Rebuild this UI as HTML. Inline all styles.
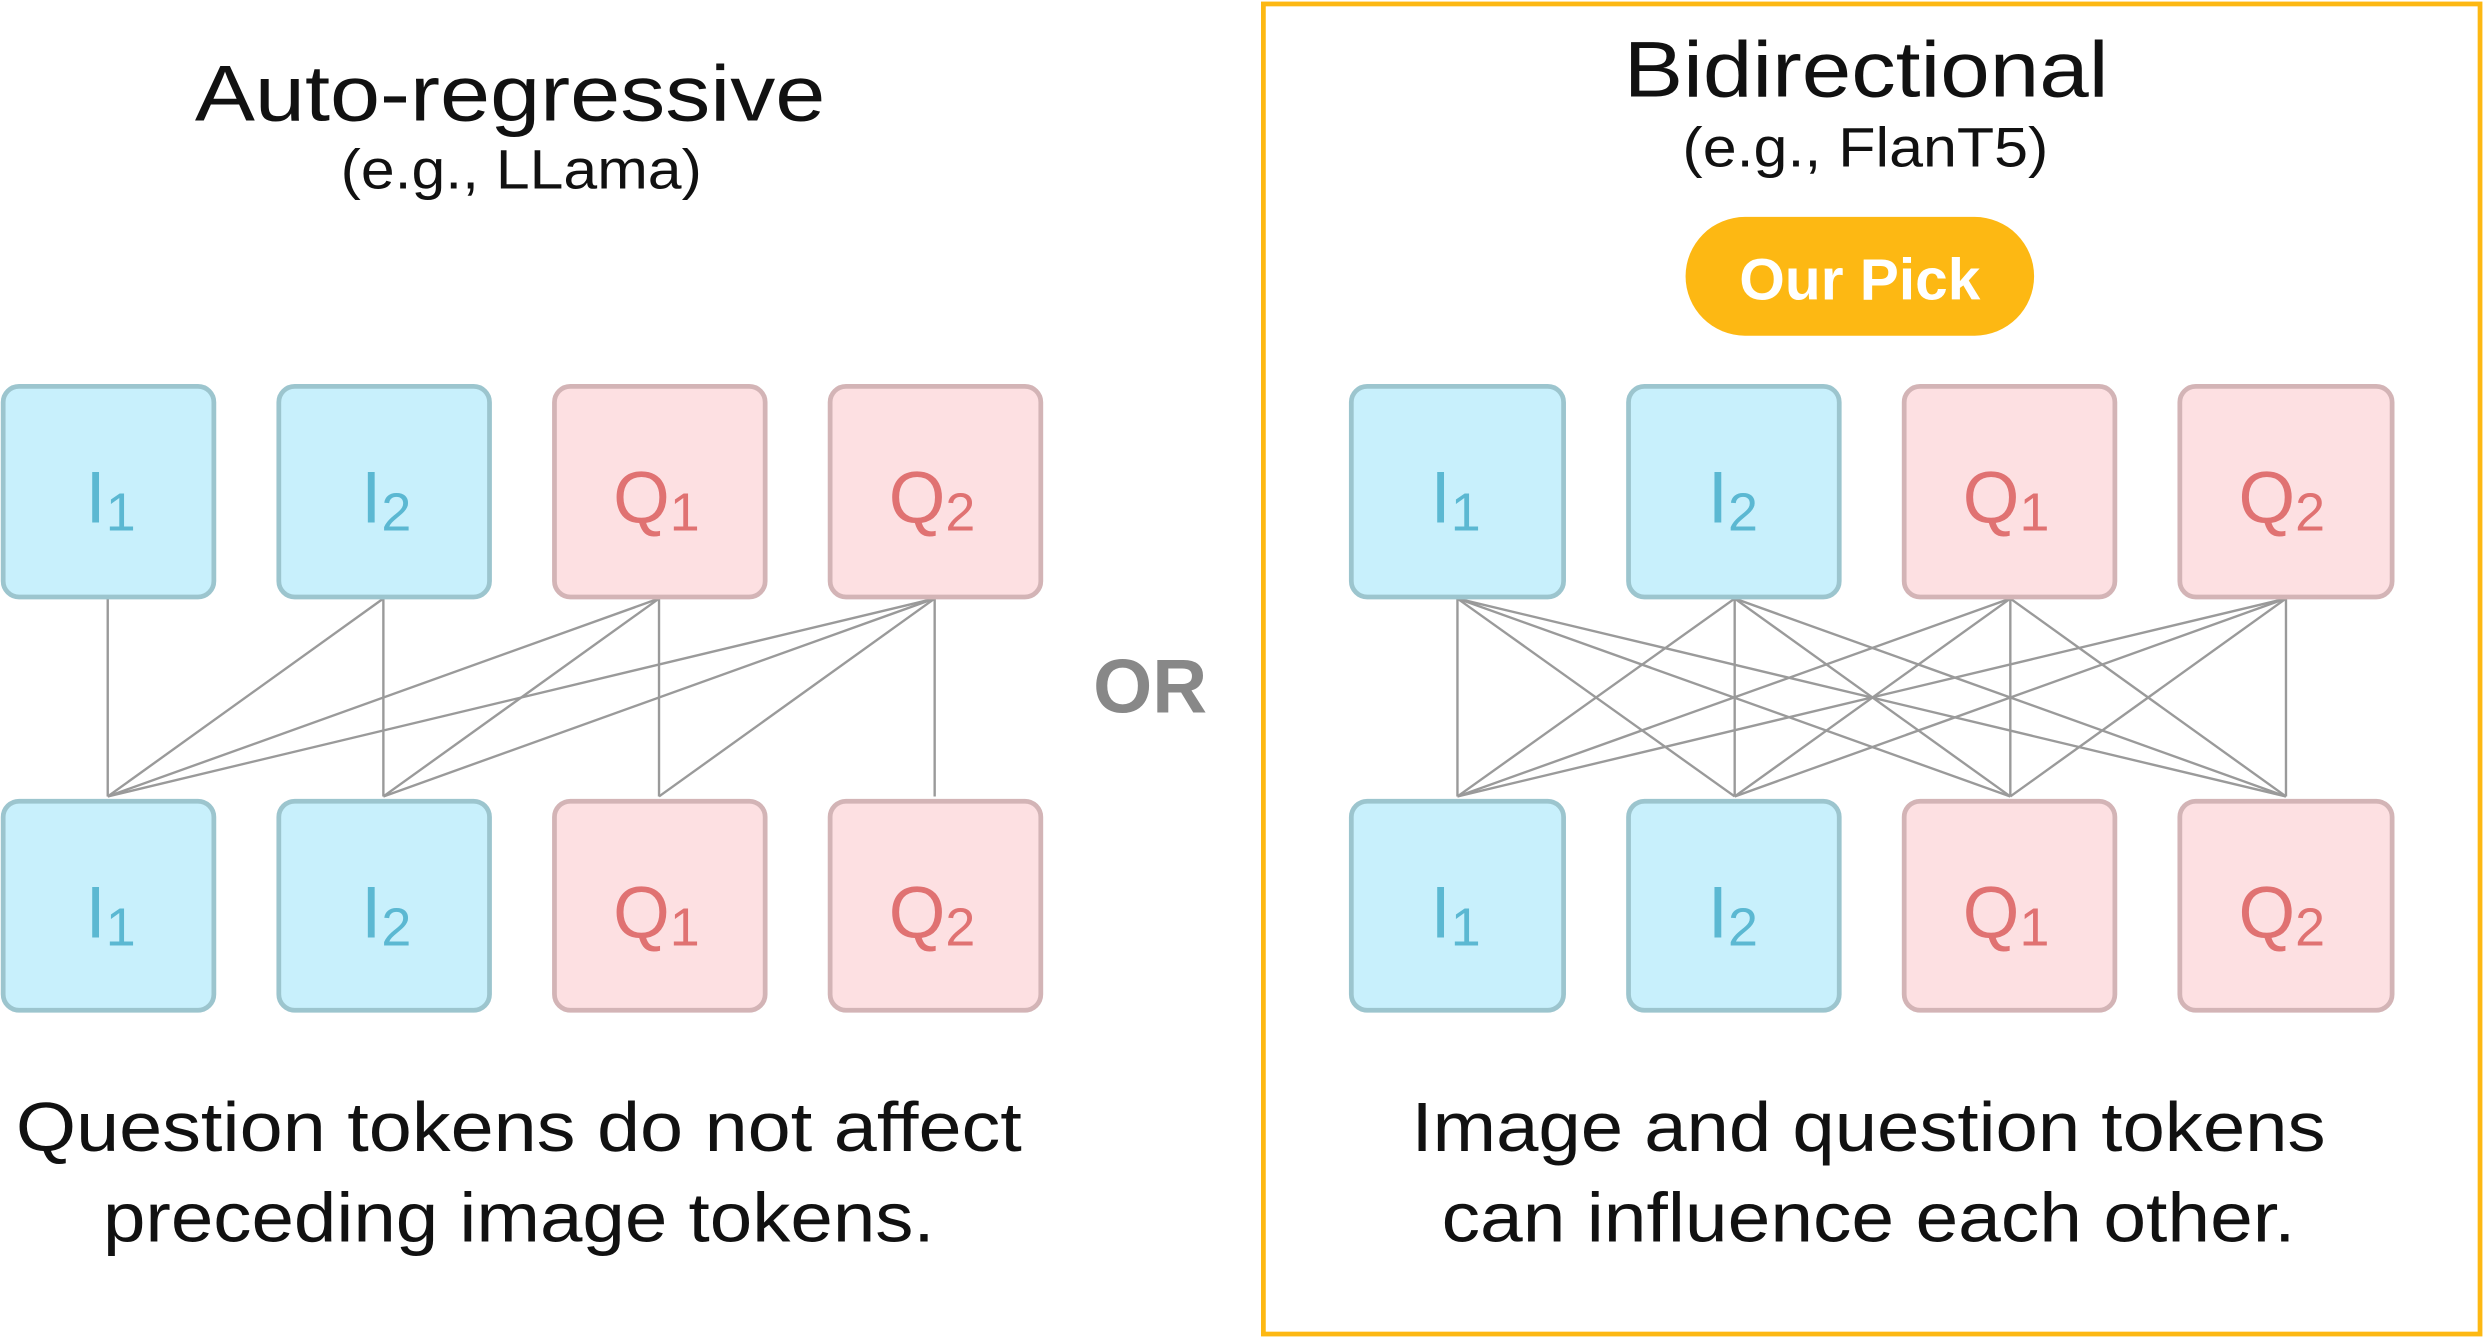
<!DOCTYPE html>
<html><head><meta charset="utf-8"><style>
html,body{margin:0;padding:0;background:#fff;}
svg{display:block;}
text{font-family:"Liberation Sans",Arial,sans-serif;}
</style></head><body>
<svg width="2484" height="1338" viewBox="0 0 1568 845" preserveAspectRatio="none" xmlns="http://www.w3.org/2000/svg">
<rect width="1568" height="845" fill="#fff"/>
<rect x="797.5" y="2.5" width="768" height="840" fill="none" stroke="#FDB813" stroke-width="3"/>
<text x="123" y="76" font-size="50" textLength="398" lengthAdjust="spacingAndGlyphs" fill="#111">Auto-regressive</text>
<text x="215" y="119" font-size="35" textLength="228" lengthAdjust="spacingAndGlyphs" fill="#111">(e.g., LLama)</text>
<text x="1025" y="61" font-size="50" textLength="306" lengthAdjust="spacingAndGlyphs" fill="#111">Bidirectional</text>
<text x="1062" y="105" font-size="35" textLength="231" lengthAdjust="spacingAndGlyphs" fill="#111">(e.g., FlanT5)</text>
<rect x="1064" y="137" width="220" height="75" rx="37.5" fill="#FDB813"/>
<text x="1174" y="189" font-size="37" font-weight="bold" text-anchor="middle" fill="#fff">Our Pick</text>
<text x="726" y="450" font-size="48" font-weight="bold" text-anchor="middle" fill="#888">OR</text>
<g stroke="#9a9a9a" stroke-width="1.5">
<line x1="68" y1="503" x2="68" y2="378"/><line x1="68" y1="503" x2="242" y2="378"/><line x1="68" y1="503" x2="416" y2="378"/><line x1="68" y1="503" x2="590" y2="378"/>
<line x1="242" y1="503" x2="242" y2="378"/><line x1="242" y1="503" x2="416" y2="378"/><line x1="242" y1="503" x2="590" y2="378"/>
<line x1="416" y1="503" x2="416" y2="378"/><line x1="416" y1="503" x2="590" y2="378"/>
<line x1="590" y1="503" x2="590" y2="378"/>
</g>
<g stroke="#9a9a9a" stroke-width="1.5">
<line x1="920" y1="503" x2="920" y2="378"/><line x1="920" y1="503" x2="1095" y2="378"/><line x1="920" y1="503" x2="1269" y2="378"/><line x1="920" y1="503" x2="1443" y2="378"/>
<line x1="1095" y1="503" x2="920" y2="378"/><line x1="1095" y1="503" x2="1095" y2="378"/><line x1="1095" y1="503" x2="1269" y2="378"/><line x1="1095" y1="503" x2="1443" y2="378"/>
<line x1="1269" y1="503" x2="920" y2="378"/><line x1="1269" y1="503" x2="1095" y2="378"/><line x1="1269" y1="503" x2="1269" y2="378"/><line x1="1269" y1="503" x2="1443" y2="378"/>
<line x1="1443" y1="503" x2="920" y2="378"/><line x1="1443" y1="503" x2="1095" y2="378"/><line x1="1443" y1="503" x2="1269" y2="378"/><line x1="1443" y1="503" x2="1443" y2="378"/>
</g>
<g stroke-width="3">
<g fill="#C8F0FC" stroke="#9CC5CE">
<rect x="2" y="244" width="133" height="133" rx="10"/><rect x="176" y="244" width="133" height="133" rx="10"/>
<rect x="2" y="506" width="133" height="132" rx="10"/><rect x="176" y="506" width="133" height="132" rx="10"/>
<rect x="853" y="244" width="134" height="133" rx="10"/><rect x="1028" y="244" width="133" height="133" rx="10"/>
<rect x="853" y="506" width="134" height="132" rx="10"/><rect x="1028" y="506" width="133" height="132" rx="10"/>
</g>
<g fill="#FDE0E2" stroke="#D3B4B6">
<rect x="350" y="244" width="133" height="133" rx="10"/><rect x="524" y="244" width="133" height="133" rx="10"/>
<rect x="350" y="506" width="133" height="132" rx="10"/><rect x="524" y="506" width="133" height="132" rx="10"/>
<rect x="1202" y="244" width="133" height="133" rx="10"/><rect x="1376" y="244" width="134" height="133" rx="10"/>
<rect x="1202" y="506" width="133" height="132" rx="10"/><rect x="1376" y="506" width="134" height="132" rx="10"/>
</g>
</g>
<g font-size="46" fill="#5BB8D2">
<text x="54" y="330">I<tspan font-size="34" dy="5">1</tspan></text>
<text x="228" y="330">I<tspan font-size="34" dy="5">2</tspan></text>
<text x="54" y="592">I<tspan font-size="34" dy="5">1</tspan></text>
<text x="228" y="592">I<tspan font-size="34" dy="5">2</tspan></text>
<text x="903" y="330">I<tspan font-size="34" dy="5">1</tspan></text>
<text x="1078" y="330">I<tspan font-size="34" dy="5">2</tspan></text>
<text x="903" y="592">I<tspan font-size="34" dy="5">1</tspan></text>
<text x="1078" y="592">I<tspan font-size="34" dy="5">2</tspan></text>
</g>
<g font-size="46" fill="#E07272">
<text x="387" y="330">Q<tspan font-size="34" dy="5">1</tspan></text>
<text x="561" y="330">Q<tspan font-size="34" dy="5">2</tspan></text>
<text x="387" y="592">Q<tspan font-size="34" dy="5">1</tspan></text>
<text x="561" y="592">Q<tspan font-size="34" dy="5">2</tspan></text>
<text x="1239" y="330">Q<tspan font-size="34" dy="5">1</tspan></text>
<text x="1413" y="330">Q<tspan font-size="34" dy="5">2</tspan></text>
<text x="1239" y="592">Q<tspan font-size="34" dy="5">1</tspan></text>
<text x="1413" y="592">Q<tspan font-size="34" dy="5">2</tspan></text>
</g>
<g font-size="44" fill="#111">
<text x="10" y="727" textLength="635" lengthAdjust="spacingAndGlyphs">Question tokens do not affect</text>
<text x="65" y="784" textLength="525" lengthAdjust="spacingAndGlyphs">preceding image tokens.</text>
<text x="891" y="727" textLength="577" lengthAdjust="spacingAndGlyphs">Image and question tokens</text>
<text x="910" y="784" textLength="539" lengthAdjust="spacingAndGlyphs">can influence each other.</text>
</g>
</svg>
</body></html>
